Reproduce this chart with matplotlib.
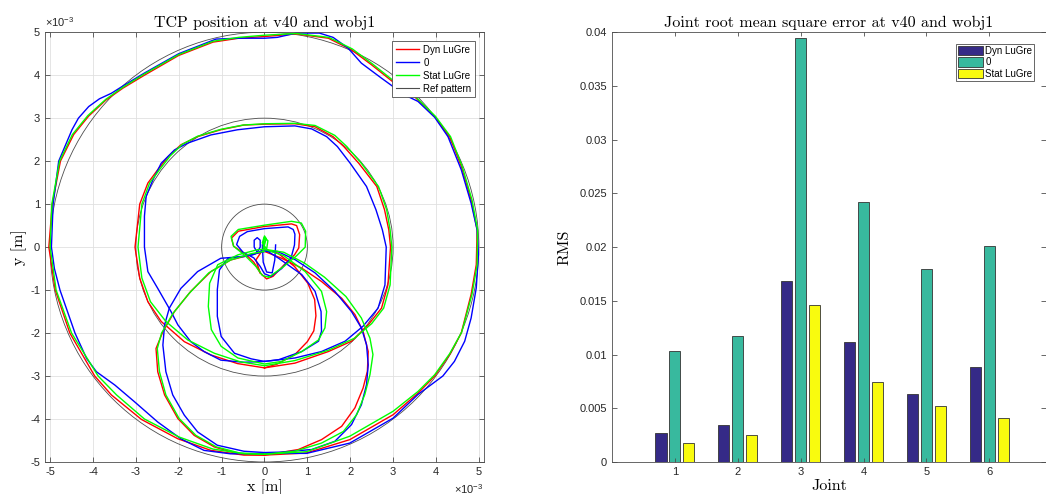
"""
TCP position and joint RMS error at v40 and wobj1
"""

import matplotlib
matplotlib.use('Agg')
import matplotlib.pyplot as plt
import numpy as np
from matplotlib.patches import Circle, Patch
from matplotlib.lines import Line2D
from matplotlib.ticker import MultipleLocator, FuncFormatter

# ---- TCP paths, (x, y) in mm ----

# Dyn LuGre (red)
dyn_outer = [(0.0, -4.84), (0.98, -4.79), (1.99, -4.48), (3.0, -3.9), (3.58, -3.4), (3.97, -3.0),
	(4.32, -2.5), (4.59, -2.0), (4.82, -1.1), (4.94, -0.41), (4.96, 0.4), (4.82, 1.1), (4.59, 1.88),
	(4.32, 2.57), (3.97, 3.04), (3.5, 3.5), (3.04, 3.81), (2.5, 4.24), (2.03, 4.59), (1.49, 4.86),
	(0.74, 4.96), (0.0, 4.9), (-0.6, 4.86), (-1.2, 4.77), (-2.0, 4.46), (-2.8, 4.0), (-3.3, 3.7),
	(-3.7, 3.42), (-4.1, 3.05), (-4.45, 2.62), (-4.76, 2.0), (-4.95, 1.0), (-5.03, 0.0), (-4.88, -1.0),
	(-4.54, -2.0), (-3.96, -3.0), (-3.57, -3.44), (-2.87, -4.01), (-2.02, -4.46), (-1.25, -4.73),
	(-0.48, -4.84), (0.0, -4.84)]
dyn_middle = [(0.0, -2.81), (0.71, -2.7), (1.49, -2.43), (2.03, -2.19), (2.42, -1.81), (2.73, -1.42),
	(2.88, -0.88), (2.94, 0.0), (2.9, 0.4), (2.8, 0.87), (2.62, 1.41), (2.2, 1.95), (1.85, 2.34),
	(1.6, 2.57), (1.18, 2.8), (0.71, 2.87), (0.0, 2.86), (-0.48, 2.84), (-1.02, 2.73), (-1.56, 2.57),
	(-1.95, 2.38), (-2.25, 2.1), (-2.49, 1.8), (-2.72, 1.49), (-2.91, 1.0), (-3.02, 0.0), (-2.91, -0.72),
	(-2.72, -1.27), (-2.41, -1.73), (-1.87, -2.2), (-1.25, -2.51), (-0.63, -2.71), (0.0, -2.81)]
dyn_inner = [(0.0, 0.0), (-0.2, -0.3), (-0.1, -0.6), (0.05, -0.74), (0.2, -0.68), (0.45, -0.42),
	(0.7, -0.18), (0.8, -0.02), (0.82, 0.29), (0.75, 0.5), (0.63, 0.54), (0.0, 0.48), (-0.61, 0.37),
	(-0.77, 0.21), (-0.72, 0.02), (-0.45, -0.16), (-0.25, -0.35), (-0.1, -0.6)]
dyn_lead5 = [(0.0, -0.1), (-0.32, -0.18), (-0.79, -0.3), (-1.25, -0.57), (-1.72, -1.03), (-2.1, -1.5),
	(-2.37, -1.97), (-2.53, -2.36), (-2.49, -2.9), (-2.33, -3.44), (-2.02, -3.99), (-1.64, -4.38),
	(-1.17, -4.65), (-0.63, -4.81), (0.0, -4.84), (0.79, -4.71), (1.33, -4.48), (1.8, -4.17),
	(2.11, -3.74), (2.3, -3.28), (2.4, -2.89), (2.42, -2.43), (2.3, -1.96), (2.11, -1.57), (1.8, -1.19),
	(1.33, -0.8), (0.87, -0.49), (0.4, -0.26), (0.0, -0.1)]
dyn_lead3 = [(0.0, -0.05), (0.31, -0.14), (0.7, -0.45), (1.01, -0.84), (1.17, -1.22), (1.2, -1.6),
	(1.15, -1.95), (1.0, -2.2), (0.71, -2.5), (0.3, -2.72), (0.0, -2.81)]

# 0 (blue)
zero_outer = [(0.0, -4.8), (0.98, -4.8), (1.99, -4.56), (3.0, -3.98), (3.58, -3.43), (3.89, -3.2),
	(4.16, -3.0), (4.43, -2.66), (4.67, -2.19), (4.82, -1.65), (4.94, -0.95), (4.99, -0.18), (4.96, 0.4),
	(4.82, 1.02), (4.59, 1.8), (4.28, 2.57), (3.97, 3.02), (3.58, 3.39), (3.27, 3.54), (2.73, 3.93),
	(2.26, 4.28), (1.95, 4.63), (1.6, 4.88), (1.28, 4.98), (0.74, 4.98), (0.3, 4.88), (0.0, 4.86),
	(-0.6, 4.86), (-1.13, 4.84), (-2.0, 4.5), (-2.8, 4.05), (-3.3, 3.75), (-3.57, 3.58), (-3.85, 3.45),
	(-4.1, 3.27), (-4.34, 3.0), (-4.49, 2.73), (-4.8, 2.0), (-4.93, 1.0), (-4.97, 0.0), (-4.9, -0.5),
	(-4.77, -1.0), (-4.42, -2.0), (-4.15, -2.59), (-3.92, -2.9), (-3.49, -3.21), (-3.03, -3.6),
	(-2.49, -4.07), (-1.95, -4.46), (-1.41, -4.73), (-0.79, -4.81), (0.0, -4.8)]
zero_middle = [(0.0, -2.66), (0.71, -2.58), (1.33, -2.43), (1.88, -2.19), (2.3, -1.84), (2.65, -1.42),
	(2.81, -0.88), (2.84, 0.0), (2.75, 0.4), (2.6, 0.87), (2.38, 1.41), (2.0, 1.95), (1.7, 2.34),
	(1.45, 2.57), (1.1, 2.75), (0.71, 2.82), (0.0, 2.8), (-0.63, 2.73), (-1.25, 2.61), (-1.79, 2.42),
	(-2.1, 2.26), (-2.41, 1.95), (-2.6, 1.57), (-2.76, 1.18), (-2.8, 0.72), (-2.8, 0.0), (-2.72, -0.57),
	(-2.49, -0.96), (-2.18, -1.5), (-2.02, -1.81), (-1.72, -2.2), (-1.41, -2.43), (-1.02, -2.63),
	(-0.48, -2.68), (0.0, -2.66)]
zero_inner = [(0.15, -0.68), (0.4, -0.5), (0.62, -0.25), (0.7, 0.05), (0.71, 0.3), (0.67, 0.41),
	(0.55, 0.47), (0.0, 0.43), (-0.4, 0.36), (-0.58, 0.25), (-0.65, 0.06), (-0.5, -0.12), (-0.25, -0.25),
	(-0.1, -0.45), (0.0, -0.62), (0.15, -0.68)]
zero_eye = [(-0.17, -0.12), (-0.1, 0.0), (-0.1, 0.16), (-0.17, 0.22), (-0.24, 0.16), (-0.24, 0.0),
	(-0.17, -0.12)]
zero_hook = [(-0.05, 0.05), (-0.03, -0.35), (0.05, -0.58), (0.18, -0.6), (0.24, -0.3), (0.26, 0.05)]
zero_lead5 = [(0.0, -0.1), (-0.48, -0.22), (-1.02, -0.26), (-1.56, -0.57), (-1.95, -0.96), (-2.22, -1.42),
	(-2.33, -1.81), (-2.37, -2.28), (-2.3, -2.9), (-2.14, -3.44), (-1.87, -3.91), (-1.56, -4.3),
	(-1.1, -4.61), (-0.48, -4.75), (0.0, -4.78), (0.4, -4.77), (1.1, -4.71), (1.64, -4.52), (2.03, -4.13),
	(2.26, -3.67), (2.38, -3.2), (2.42, -2.74), (2.38, -2.27), (2.26, -1.88), (2.03, -1.5), (1.64, -1.03),
	(1.18, -0.6), (0.71, -0.29), (0.3, -0.1), (0.0, -0.1)]
zero_lead3 = [(0.0, -0.05), (-0.27, -0.18), (-0.85, -0.26), (-1.05, -0.53), (-1.1, -0.99), (-1.1, -1.61),
	(-1.01, -2.08), (-0.7, -2.47), (-0.31, -2.6), (0.0, -2.66), (0.33, -2.62), (0.87, -2.43),
	(1.26, -2.19), (1.33, -1.96), (1.32, -1.5), (1.18, -1.03), (0.87, -0.64), (0.33, -0.26), (0.0, -0.05)]

# Stat LuGre (green)
stat_outer = [(0.0, -4.82), (0.98, -4.76), (1.99, -4.4), (3.0, -3.82), (3.58, -3.36), (3.97, -2.97),
	(4.32, -2.48), (4.6, -1.98), (4.84, -1.1), (4.96, -0.41), (4.97, 0.4), (4.84, 1.1), (4.61, 1.88),
	(4.34, 2.57), (3.99, 3.04), (3.52, 3.5), (3.06, 3.83), (2.52, 4.26), (2.05, 4.61), (1.5, 4.88),
	(0.74, 4.97), (0.0, 4.93), (-0.6, 4.88), (-1.2, 4.79), (-2.0, 4.48), (-2.8, 4.03), (-3.3, 3.72),
	(-3.7, 3.44), (-4.12, 3.06), (-4.48, 2.62), (-4.78, 2.0), (-4.96, 1.0), (-5.0, 0.0), (-4.86, -1.0),
	(-4.5, -2.0), (-3.88, -3.0), (-3.45, -3.44), (-2.8, -4.0), (-1.99, -4.42), (-1.2, -4.7),
	(-0.45, -4.81), (0.0, -4.82)]
stat_middle = [(0.0, -2.76), (0.71, -2.64), (1.49, -2.4), (2.1, -2.12), (2.5, -1.78), (2.78, -1.42),
	(2.93, -0.88), (2.97, 0.0), (2.93, 0.4), (2.85, 0.87), (2.66, 1.41), (2.26, 1.95), (1.92, 2.34),
	(1.64, 2.6), (1.18, 2.83), (0.71, 2.88), (0.0, 2.87), (-0.5, 2.84), (-1.02, 2.74), (-1.56, 2.58),
	(-1.92, 2.39), (-2.2, 2.12), (-2.45, 1.8), (-2.68, 1.49), (-2.86, 1.0), (-2.95, 0.0), (-2.86, -0.72),
	(-2.66, -1.27), (-2.3, -1.73), (-1.79, -2.16), (-1.17, -2.47), (-0.56, -2.67), (0.0, -2.76)]
stat_inner = [(0.1, -0.7), (0.45, -0.45), (0.75, -0.2), (0.95, 0.0), (0.96, 0.37), (0.86, 0.56),
	(0.63, 0.6), (0.0, 0.51), (-0.61, 0.41), (-0.78, 0.25), (-0.72, 0.02), (-0.45, -0.2), (-0.2, -0.45),
	(-0.05, -0.66), (0.1, -0.7)]
stat_knot = [(-0.04, -0.1), (0.04, 0.2), (0.0, 0.26), (-0.05, 0.1), (0.05, -0.05), (0.08, 0.15),
	(0.0, 0.22), (-0.03, 0.0)]
stat_lead5 = [(0.0, -0.1), (-0.3, -0.15), (-0.79, -0.3), (-1.3, -0.6), (-1.76, -1.08), (-2.14, -1.55),
	(-2.4, -2.0), (-2.5, -2.36), (-2.45, -2.9), (-2.3, -3.44), (-1.99, -3.99), (-1.6, -4.38),
	(-1.12, -4.65), (-0.58, -4.79), (0.0, -4.82), (0.71, -4.75), (1.33, -4.56), (1.84, -4.29),
	(2.15, -3.9), (2.34, -3.43), (2.46, -2.97), (2.53, -2.5), (2.46, -2.12), (2.26, -1.65), (1.9, -1.15),
	(1.4, -0.7), (0.93, -0.37), (0.45, -0.12), (0.0, -0.05)]
stat_lead3 = [(0.0, -0.05), (-0.16, -0.06), (-0.62, -0.18), (-1.09, -0.41), (-1.28, -0.84), (-1.31, -1.38),
	(-1.24, -1.92), (-1.01, -2.31), (-0.62, -2.58), (0.0, -2.72), (0.4, -2.66), (0.87, -2.43),
	(1.26, -2.16), (1.41, -1.88), (1.45, -1.5), (1.33, -1.03), (0.95, -0.57), (0.45, -0.2), (0.0, -0.05)]

# reference pattern: circles round the origin, radius in mm
ref_radii = [1, 3, 5]

# ---- joint RMS error ----
joints = [1, 2, 3, 4, 5, 6]
rms_dyn = [0.0027, 0.0034, 0.0168, 0.0112, 0.0063, 0.0088]
rms_zero = [0.0103, 0.0117, 0.0395, 0.0242, 0.0180, 0.0201]
rms_stat = [0.0018, 0.0025, 0.0146, 0.0074, 0.0052, 0.0041]

labels = ['Dyn LuGre', '0', 'Stat LuGre']


def style_axes(ax):
	for s in ax.spines.values():
		s.set_color('0.3')
		s.set_linewidth(0.6)
	ax.tick_params(direction='in', length=3.5, width=0.6, color='0.3', labelsize=8,
		labelcolor='0.15', top=True, right=True)


def main():
	plt.rcParams['font.family'] = ['Liberation Sans', 'DejaVu Sans']
	plt.rcParams['mathtext.fontset'] = 'custom'
	plt.rcParams['mathtext.rm'] = 'Liberation Sans'
	plt.rcParams['axes.unicode_minus'] = False
	serif = 'cmr10'

	fig = plt.figure(figsize=(10.46, 4.94), dpi=100)

	## TCP position ##
	ax = fig.add_axes([0.043, 0.0648, 0.4197, 0.870])
	groups = [
		('red', [dyn_outer, dyn_middle, dyn_inner, dyn_lead5, dyn_lead3]),
		('blue', [zero_outer, zero_middle, zero_inner, zero_eye, zero_hook, zero_lead5, zero_lead3]),
		('#00ff00', [stat_outer, stat_middle, stat_inner, stat_knot, stat_lead5, stat_lead3]),
	]
	handles = []
	for color, paths in groups:
		for k, p in enumerate(paths):
			x, y = zip(*p)
			ln, = ax.plot(np.array(x) * 1e-3, np.array(y) * 1e-3, color=color, lw=1.0)
			if k == 0:
				handles.append(ln)
	for r in ref_radii:
		ax.add_patch(Circle((0, 0), r * 1e-3, fill=False, ec='0.3', lw=0.6))
	handles.append(Line2D([], [], color='0.3', lw=0.8))

	ax.set_xlim(-5.12e-3, 5.12e-3)
	ax.set_ylim(-5e-3, 5e-3)
	ax.xaxis.set_major_locator(MultipleLocator(1e-3))
	ax.yaxis.set_major_locator(MultipleLocator(1e-3))
	fmt = FuncFormatter(lambda v, p: f'{v * 1e3:.0f}')
	ax.xaxis.set_major_formatter(fmt)
	ax.yaxis.set_major_formatter(fmt)
	ax.grid(True, color='0.88', lw=0.6)
	ax.set_axisbelow(True)
	style_axes(ax)
	ax.text(0.0, 1.008, r'$\times10^{-3}$', transform=ax.transAxes, ha='left', va='bottom',
		fontsize=8, color='0.15')
	ax.text(1.0, -0.062, r'$\times10^{-3}$', transform=ax.transAxes, ha='right', va='center',
		fontsize=8, color='0.15')
	ax.set_title('TCP position at v40 and wobj1', fontfamily=serif, fontsize=11.5, pad=4)
	ax.set_xlabel('x [m]', fontfamily=serif, fontsize=11.5, labelpad=2)
	ax.set_ylabel('y [m]', fontfamily=serif, fontsize=11.5, labelpad=2)
	leg = ax.legend(handles, labels + ['Ref pattern'], loc='upper right', fontsize=7,
		fancybox=False, framealpha=1, edgecolor='0.3', borderaxespad=0.9,
		handlelength=2.4, handletextpad=0.4, labelspacing=0.3, borderpad=0.4)
	leg.get_frame().set_linewidth(0.6)

	## joint RMS ##
	bx = fig.add_axes([0.585, 0.0648, 0.415, 0.870])
	j = np.array(joints)
	w = 0.18
	bx.bar(j - 0.222, rms_dyn, w, color='#352a87', ec='0.2', lw=0.6, label=labels[0])
	bx.bar(j, rms_zero, w, color='#38b99e', ec='0.2', lw=0.6, label=labels[1])
	bx.bar(j + 0.222, rms_stat, w, color='#f9fb0e', ec='0.2', lw=0.6, label=labels[2])
	bx.set_xlim(0, 6.9)
	bx.set_ylim(0, 0.04)
	bx.set_xticks(joints)
	bx.yaxis.set_major_locator(MultipleLocator(0.005))
	bx.yaxis.set_major_formatter(FuncFormatter(lambda v, p: f'{v:g}'))
	style_axes(bx)
	bx.tick_params(axis='x', length=3)
	bx.set_title('Joint root mean square error at v40 and wobj1', fontfamily=serif, fontsize=11.5, pad=4)
	bx.set_xlabel('Joint', fontfamily=serif, fontsize=11.5, labelpad=2)
	bx.set_ylabel('RMS', fontfamily=serif, fontsize=11.5, labelpad=6)
	leg = bx.legend(loc='upper right', fontsize=7, fancybox=False, framealpha=1, edgecolor='0.3',
		borderaxespad=1.2, handlelength=2.6, handleheight=1.1, handletextpad=0.2,
		labelspacing=0.15, borderpad=0.2)
	leg.get_frame().set_linewidth(0.6)

	fig.savefig('out.png', dpi=100)


if __name__ == '__main__':
	main()
